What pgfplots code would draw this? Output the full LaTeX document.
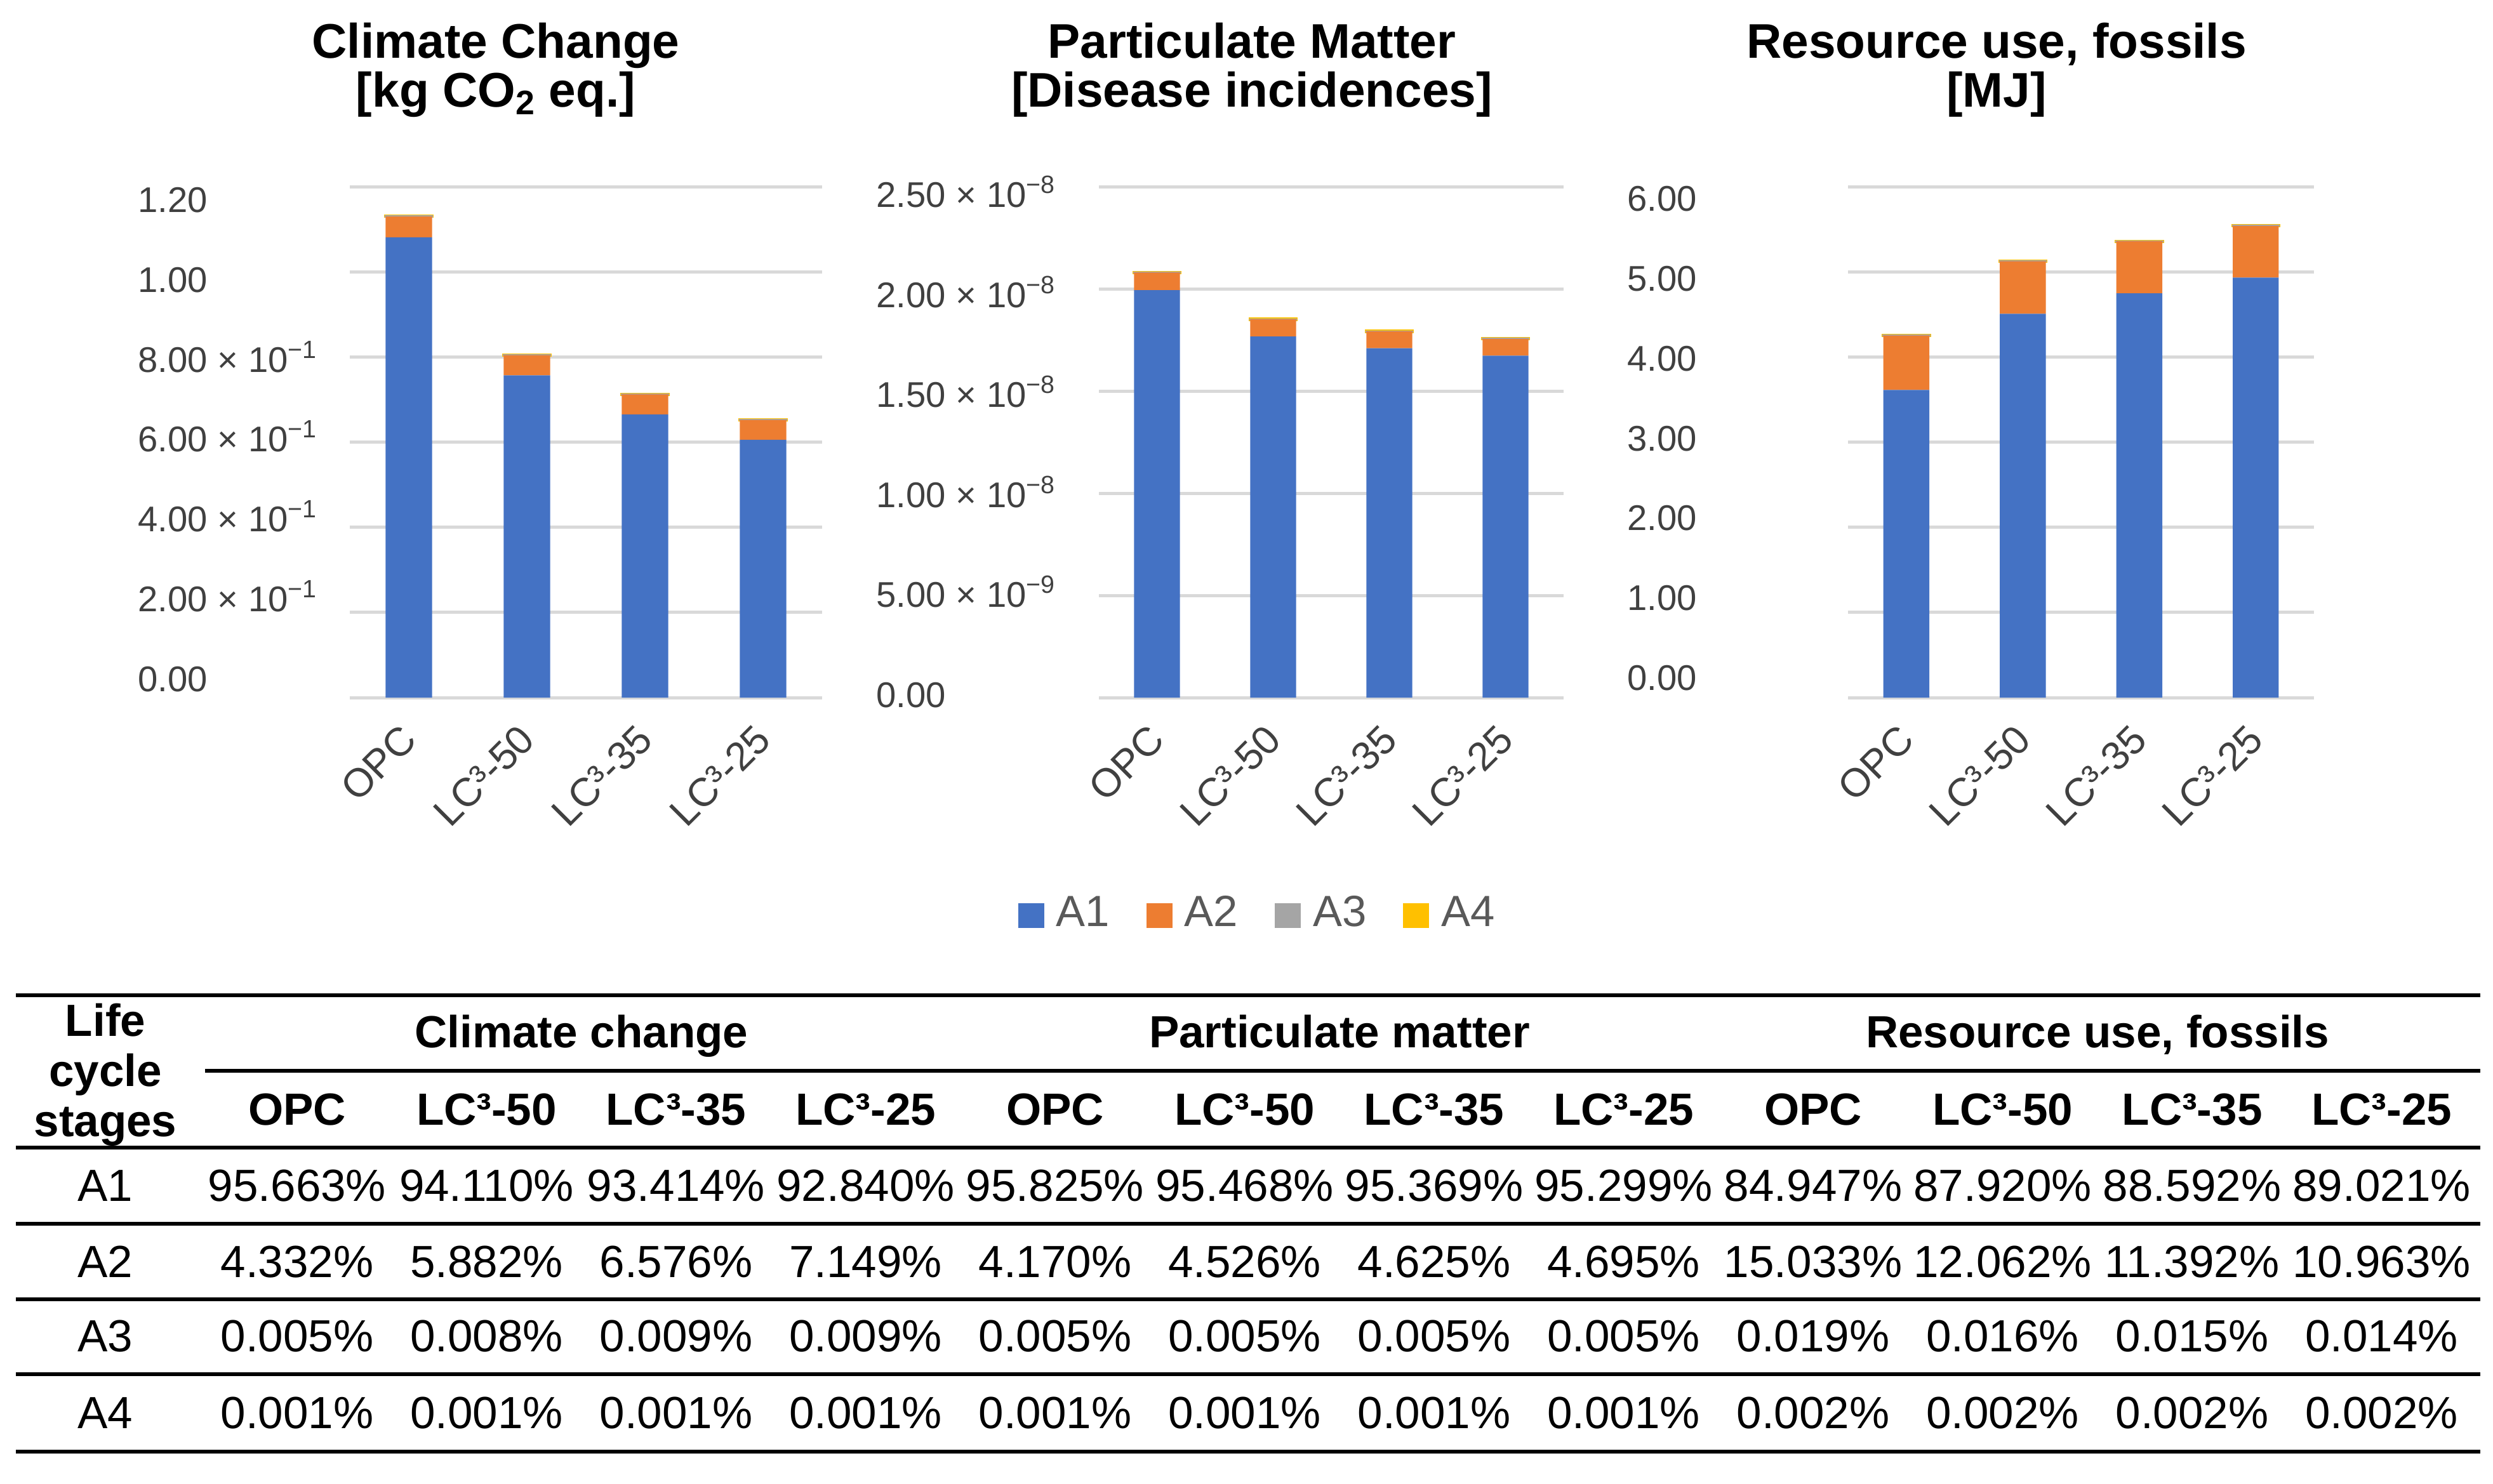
\documentclass[border=0pt]{standalone}
\usepackage{fontspec}
\setmainfont{Liberation Sans}
\usepackage{pgfplots}
\pgfplotsset{compat=1.18}

\definecolor{cA1}{HTML}{4472C4}
\definecolor{cA2}{HTML}{ED7D31}
\definecolor{cA3}{HTML}{A5A5A5}
\definecolor{cA4}{HTML}{FFC000}
\definecolor{cgrid}{HTML}{D9D9D9}
\definecolor{ctick}{HTML}{404040}
\definecolor{clegend}{HTML}{595959}

\newcommand\titlefont{\fontsize{21.8}{22}\selectfont\bfseries}
\newcommand\tabfont{\fontsize{20.2}{22}\selectfont}

\pgfplotsset{
  lcabar/.style={
    scale only axis, height=80.5mm, anchor=south west,
    ybar stacked, bar width=0.395,
    xmin=-0.5, xmax=3.5, ymin=0,
    axis line style={draw=none},
    major tick length=0pt,
    xtick={0,1,2,3},
    xticklabels={OPC,LC³-50,LC³-35,LC³-25},
    scaled y ticks=false,
    ymajorgrids=false,
    major grid style={cgrid, line width=0.5mm},
    extra y tick style={grid=major},
    extra y tick labels={},
    tick label style={color=ctick},
    % shifts are taken in the rotated frame
    xticklabel style={font=\fontsize{17.9}{19}\selectfont, inner sep=0pt, rotate=45, anchor=north east, xshift=-3.8mm, yshift=-1.6mm},
    yticklabel style={font=\fontsize{16}{18}\selectfont, inner sep=0pt, anchor=base west, yshift=-1.95mm},
  },
  sq/.style={legend image code/.code={\fill[##1, draw=none] (0mm,-2.4mm) rectangle (4.1mm,1.5mm);}},
  s1/.style={fill=cA1, draw=none, sq},
  s2/.style={fill=cA2, draw=none, sq},
  s3/.style={fill=cA3, draw=cA3, line width=0.3mm, sq},
  s4/.style={fill=cA4, draw=cA4, line width=0.5mm, sq},
}

\begin{document}
\begin{tikzpicture}
\path[use as bounding box] (0,0) rectangle (392.7mm,-233.8mm);

% climate change
\begin{axis}[lcabar, at={(55.1mm,-109.9mm)}, width=74.4mm, ymax=1.2,
  ytick={0.0432,0.2308,0.4184,0.6060,0.7935,0.9811,1.1687},
  yticklabels={0.00, 2.00 × 10\textsuperscript{−1}, 4.00 × 10\textsuperscript{−1},
    6.00 × 10\textsuperscript{−1}, 8.00 × 10\textsuperscript{−1}, 1.00, 1.20},
  extra y ticks={0,0.2,0.4,0.6,0.8,1.0,1.2},
  yticklabel style={xshift=-33.4mm}]
\addplot[s1] coordinates {(0,1.0810) (1,0.7566) (2,0.6651) (3,0.6053)};
\addplot[s2] coordinates {(0,0.04895) (1,0.04729) (2,0.04682) (3,0.04661)};
\addplot[s3] coordinates {(0,0.0000565) (1,0.0000643) (2,0.0000641) (3,0.0000587)};
\addplot[s4] coordinates {(0,0.0000113) (1,0.0000080) (2,0.0000071) (3,0.0000065)};
\end{axis}

% particulate matter
\begin{axis}[lcabar, at={(173.1mm,-109.9mm)}, width=73.2mm, ymax=2.5e-8,
  ytick={0.0124e-8,0.5019e-8,0.9913e-8,1.4807e-8,1.9702e-8,2.4596e-8},
  yticklabels={0.00, 5.00 × 10\textsuperscript{−9}, 1.00 × 10\textsuperscript{−8},
    1.50 × 10\textsuperscript{−8}, 2.00 × 10\textsuperscript{−8}, 2.50 × 10\textsuperscript{−8}},
  extra y ticks={0,0.5e-8,1.0e-8,1.5e-8,2.0e-8,2.5e-8},
  yticklabel style={xshift=-35.1mm},
  legend columns=4,
  legend style={at={(-0.1749,-0.4211)}, anchor=west, draw=none, fill=none, inner sep=0pt,
    font=\fontsize{19.6}{22}\selectfont, nodes={inner sep=0pt, text=clegend},
    /tikz/every odd column/.append style={column sep=1.9mm},
    /tikz/every even column/.append style={column sep=5.8mm}}]
\addplot[s1] coordinates {(0,1.9932e-8) (1,1.7671e-8) (2,1.7090e-8) (3,1.6725e-8)};
\addplot[s2] coordinates {(0,8.674e-10) (1,8.378e-10) (2,8.288e-10) (3,8.240e-10)};
\addplot[s3] coordinates {(0,1.04e-12) (1,9.26e-13) (2,8.96e-13) (3,8.78e-13)};
\addplot[s4] coordinates {(0,2.08e-13) (1,1.85e-13) (2,1.79e-13) (3,1.76e-13)};
\legend{A1,A2,A3,A4}
\end{axis}

% resource use, fossils
\begin{axis}[lcabar, at={(291.1mm,-109.9mm)}, width=73.4mm, ymax=6,
  ytick={0.2311,1.1689,2.1068,3.0447,3.9826,4.9205,5.8584},
  yticklabels={0.00,1.00,2.00,3.00,4.00,5.00,6.00},
  extra y ticks={0,1,2,3,4,5,6},
  yticklabel style={xshift=-34.8mm}]
\addplot[s1] coordinates {(0,3.6128) (1,4.5059) (2,4.7477) (3,4.9318)};
\addplot[s2] coordinates {(0,0.6394) (1,0.6182) (2,0.6105) (3,0.6074)};
\addplot[s3] coordinates {(0,0.000808) (1,0.000820) (2,0.000804) (3,0.000776)};
\addplot[s4] coordinates {(0,0.0000851) (1,0.0001025) (2,0.000107) (3,0.000111)};
\end{axis}

\begin{scope}[x=0.1mm, y=-0.1mm]
  % chart titles
  \node[anchor=base, font=\titlefont] at (781,91) {Climate Change};
  \node[anchor=base, font=\titlefont] at (781,168) {[kg CO\textsubscript{2} eq.]};
  \node[anchor=base, font=\titlefont] at (1972,91) {Particulate Matter};
  \node[anchor=base, font=\titlefont] at (1972,168) {[Disease incidences]};
  \node[anchor=base, font=\titlefont] at (3145,91) {Resource use, fossils};
  \node[anchor=base, font=\titlefont] at (3145,168) {[MJ]};

  % table rules
  \foreach \y in {1568,1808,1928,2047,2165,2287}
    \draw[line width=0.6mm] (25,\y) -- (3907,\y);
  \draw[line width=0.6mm] (323,1687) -- (3907,1687);

  % table header
  \begin{scope}[every node/.style={anchor=base, font=\tabfont\bfseries, inner sep=0pt}]
    \node at (166,1632) {Life};
    \node at (166,1711) {cycle};
    \node at (166,1790) {stages};
    \node at (916,1650) {Climate change};
    \node at (2110,1650) {Particulate matter};
    \node at (3304,1650) {Resource use, fossils};
    \foreach \h [count=\i from 0] in {OPC,LC³-50,LC³-35,LC³-25,OPC,LC³-50,LC³-35,LC³-25,OPC,LC³-50,LC³-35,LC³-25}
      \node at ({468+298.5*\i},1772) {\h};
  \end{scope}

  % table body
  \begin{scope}[every node/.style={anchor=base, font=\tabfont, inner sep=0pt}]
    \node at (166,1892) {A1};
    \node at (166,2012) {A2};
    \node at (166,2129) {A3};
    \node at (166,2250) {A4};
    \foreach \v [count=\i from 0] in {95.663,94.110,93.414,92.840,95.825,95.468,95.369,95.299,84.947,87.920,88.592,89.021}
      \node at ({468+298.5*\i},1892) {\v\%};
    \foreach \v [count=\i from 0] in {4.332,5.882,6.576,7.149,4.170,4.526,4.625,4.695,15.033,12.062,11.392,10.963}
      \node at ({468+298.5*\i},2012) {\v\%};
    \foreach \v [count=\i from 0] in {0.005,0.008,0.009,0.009,0.005,0.005,0.005,0.005,0.019,0.016,0.015,0.014}
      \node at ({468+298.5*\i},2129) {\v\%};
    \foreach \v [count=\i from 0] in {0.001,0.001,0.001,0.001,0.001,0.001,0.001,0.001,0.002,0.002,0.002,0.002}
      \node at ({468+298.5*\i},2250) {\v\%};
  \end{scope}
\end{scope}
\end{tikzpicture}
\end{document}
